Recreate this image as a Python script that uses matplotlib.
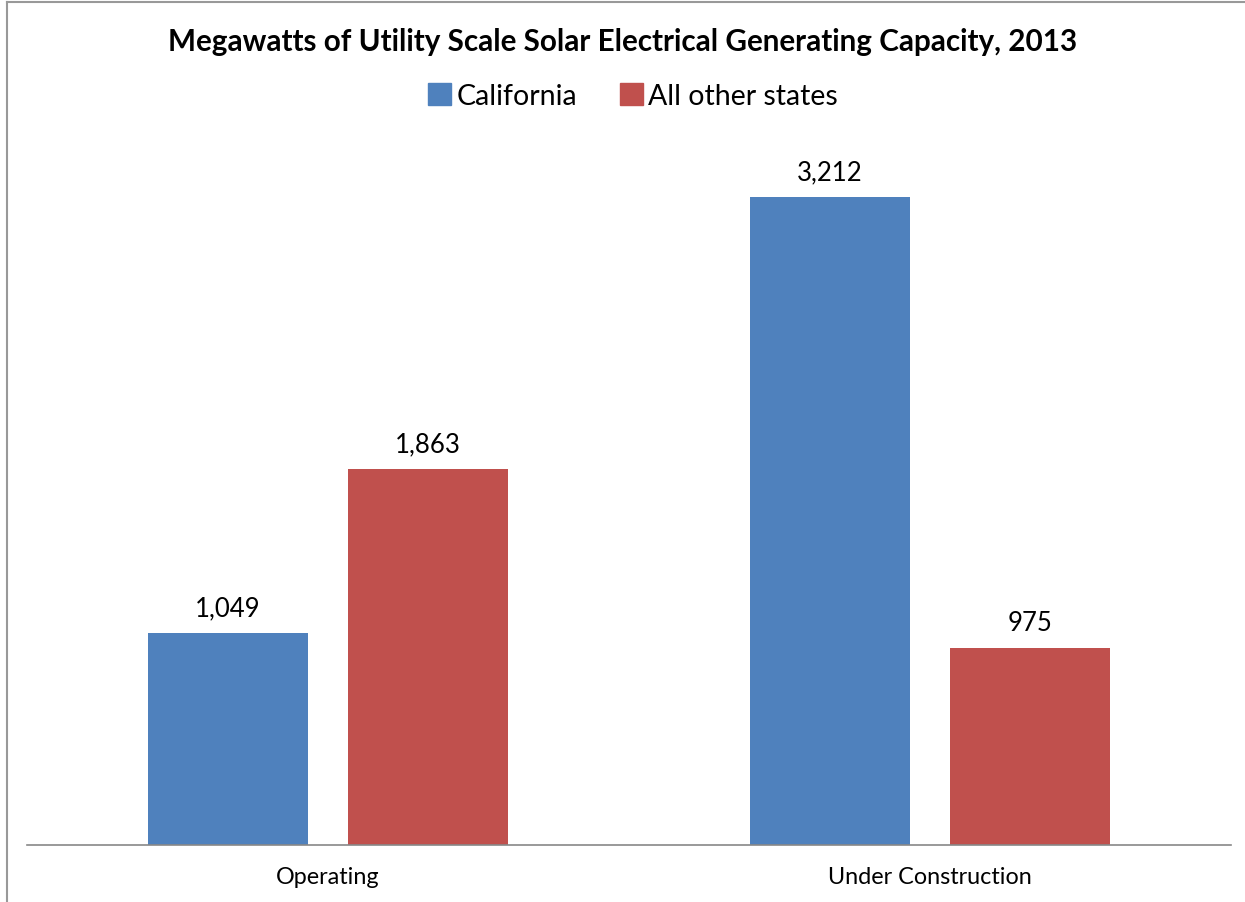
import numpy as np
import matplotlib.pyplot as plt
from matplotlib.patches import Patch
from matplotlib.lines import Line2D

categories = ['Operating', 'Under Construction']
california = [1049, 3212]
other_states = [1863, 975]
series_names = ['California', 'All other states']
colors = ['#4F81BD', '#C0504D']

plt.rcParams['font.family'] = ['Lato', 'DejaVu Sans']

fig = plt.figure(figsize=(12.45, 9.03), dpi=100)
ax = fig.add_axes([27 / 1245, 57 / 903, 1204 / 1245, 706 / 903])

x = np.arange(len(categories))
w = 0.266
off = 0.1665
b1 = ax.bar(x - off, california, w, color=colors[0])
b2 = ax.bar(x + off, other_states, w, color=colors[1])

for bars in (b1, b2):
    for r in bars:
        ax.text(r.get_x() + r.get_width() / 2, r.get_height() + 65,
                f'{int(r.get_height()):,}', ha='center', va='bottom', fontsize=18.5)

ax.set_xlim(-0.5, 1.5)
ax.set_ylim(0, 3500)
ax.set_xticks(x)
ax.set_xticklabels(categories, fontsize=16.8)
ax.tick_params(axis='x', length=0, pad=15)
ax.set_yticks([])
for s in ['top', 'right', 'left']:
    ax.spines[s].set_visible(False)
ax.spines['bottom'].set_color('#888888')
ax.spines['bottom'].set_linewidth(1.2)

# chart border (only top and left visible in the original)
fig.add_artist(Line2D([7 / 1245, 7 / 1245], [0, 1 - 3 / 903], color='#999999', lw=1.5))
fig.add_artist(Line2D([7 / 1245, 1], [1 - 3 / 903, 1 - 3 / 903], color='#999999', lw=1.5))

fig.text(623 / 1245, 1 - 42 / 903,
         'Megawatts of Utility Scale Solar Electrical Generating Capacity, 2013',
         ha='center', va='center', fontsize=21.3, fontweight='bold')

handles = [Patch(color=c, label=n) for c, n in zip(colors, series_names)]
fig.legend(handles=handles, loc='center', bbox_to_anchor=(633 / 1245, 1 - 97 / 903),
           ncol=2, frameon=False, fontsize=20.5, handlelength=0.8, handleheight=0.8,
           handletextpad=0.2, columnspacing=1.5)

fig.savefig('out.png', dpi=100)
